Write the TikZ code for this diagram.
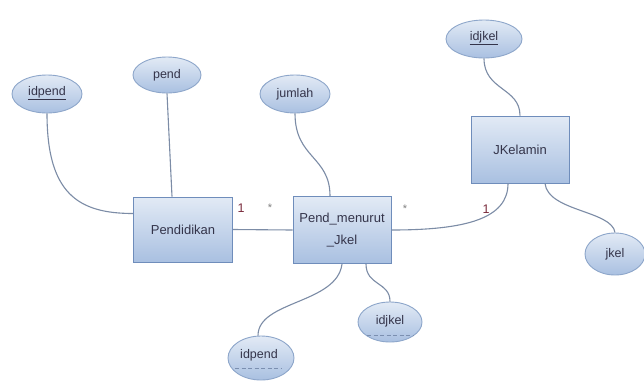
\documentclass[tikz,border=0pt]{standalone}
\usepackage{fontspec}
\setmainfont{Liberation Sans}
\usetikzlibrary{shapes.geometric,calc}
\definecolor{txt}{HTML}{34344A}
\definecolor{card}{HTML}{7A2B3C}
\definecolor{wire}{HTML}{7C8CA6}
\definecolor{ebord}{HTML}{8DA6CA}
\definecolor{rbord}{HTML}{6F8DBB}
\definecolor{ltop}{HTML}{E2EAF5}
\definecolor{lbot}{HTML}{A9C0E1}
\tikzset{
  attr/.style={ellipse, draw=ebord, line width=0.9pt, top color=ltop, bottom color=lbot,
    inner sep=0pt, text=txt, font=\fontsize{12.5}{14}\selectfont},
  entity/.style={rectangle, draw=rbord, line width=0.9pt, top color=ltop, bottom color=lbot,
    inner sep=0pt, text=txt, align=center, font=\fontsize{13}{22}\selectfont},
  link/.style={draw=wire, line width=1.1pt},
  mult/.style={font=\fontsize{12.5}{14}\selectfont, text=card, inner sep=0pt},
  star/.style={font=\fontsize{11}{13}\selectfont, text=gray, inner sep=0pt},
  keyline/.style={draw=txt, line width=0.6pt},
  dashkey/.style={draw=ebord!80!txt, line width=0.9pt, dash pattern=on 4pt off 2.5pt}
}
\begin{document}
\begin{tikzpicture}[x=1pt,y=-1pt]
  \useasboundingbox[fill=white] (0,0) rectangle (644,381);

  % entities
  \node[entity, minimum width=99pt, minimum height=65pt] (pendidikan) at (183,229.5) {Pendidikan};
  \node[entity, minimum width=98pt, minimum height=67pt] (pmj) at (342,230) {Pend\_menurut\\\_Jkel};
  \node[entity, minimum width=98pt, minimum height=67pt] (jkelamin) at (520,149.5) {JKelamin};

  % attributes
  \node[attr, minimum width=70pt, minimum height=38pt] (idpA) at (47,94) {};
  \node[text=txt, font=\fontsize{12.5}{14}\selectfont, inner sep=0pt] (idpAt) at (47,92) {idpend};
  \node[attr, minimum width=68pt, minimum height=36pt] (pend) at (167,75) {pend};
  \node[attr, minimum width=70pt, minimum height=38pt] (jumlah) at (295,94) {jumlah};
  \node[attr, minimum width=76pt, minimum height=38pt] (idjA) at (484,39) {};
  \node[text=txt, font=\fontsize{12.5}{14}\selectfont, inner sep=0pt] (idjAt) at (484,37) {idjkel};
  \node[attr, minimum width=60pt, minimum height=42pt] (jkel) at (615,254) {jkel};
  \node[attr, minimum width=64pt, minimum height=40pt] (idjB) at (390,322) {};
  \node[text=txt, font=\fontsize{12.5}{14}\selectfont, inner sep=0pt] (idjBt) at (390,321) {idjkel};
  \node[attr, minimum width=66pt, minimum height=44pt] (idpB) at (261,358) {};
  \node[text=txt, font=\fontsize{12.5}{14}\selectfont, inner sep=0pt] (idpBt) at (259,355) {idpend};

  % key underlines
  \draw[keyline] ($(idpAt.south west)+(0,1.5)$) -- ($(idpAt.south east)+(0,1.5)$);
  \draw[keyline] ($(idjAt.south west)+(0,1.5)$) -- ($(idjAt.south east)+(0,1.5)$);
  \draw[dashkey] ($(idjB.south)+(-23,-7)$) -- ($(idjB.south)+(23,-7)$);
  \draw[dashkey] ($(idpB.south)+(-26,-12)$) -- ($(idpB.south)+(20,-12)$);

  % connectors
  \draw[link] (idpA.south) .. controls +(0,80) and +(-55,0) .. ($(pendidikan.west)+(0,-16)$);
  \draw[link] (pend.south) -- ($(pendidikan.north)+(-11,0)$);
  \draw[link] (jumlah.south) .. controls +(0,45) and +(0,-40) .. ($(pmj.north)+(-12,0)$);
  \draw[link] (pendidikan.east) -- (pmj.west);
  \draw[link] (pmj.east) .. controls +(75,0) and +(0,35) .. ($(jkelamin.south)+(-12,0)$);
  \draw[link] (idjA.south) .. controls +(0,32) and +(0,-28) .. (jkelamin.north);
  \draw[link] ($(jkelamin.south)+(25,0)$) .. controls +(3,28) and +(-3,-22) .. (jkel.north);
  \draw[link] (pmj.south) .. controls +(-5,40) and +(0,-35) .. ($(idpB.north)+(-3,0)$);
  \draw[link] ($(pmj.south)+(24,0)$) .. controls +(0,22) and +(0,-20) .. (idjB.north);

  % multiplicities
  \node[mult] (m1) at (241,208) {1};
  \node[star] (s1) at (270,208) {*};
  \node[star] (s2) at (405,209) {*};
  \node[mult] (m2) at (486,209) {1};
\end{tikzpicture}
\end{document}
